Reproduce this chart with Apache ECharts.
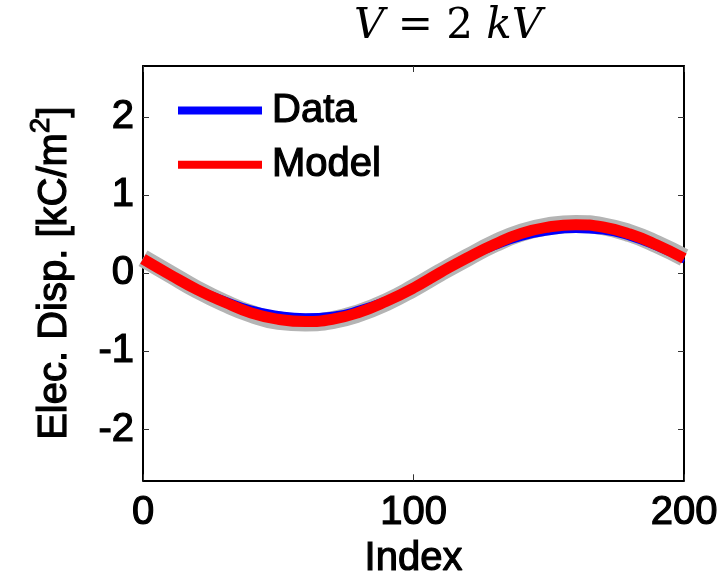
<!DOCTYPE html>
<html>
<head>
<meta charset="utf-8">
<script src="https://cdn.jsdelivr.net/npm/echarts@6/dist/echarts.min.js"></script>
<style>
  html, body { margin: 0; padding: 0; background: #fff; }
  #chart { width: 721px; height: 585px; }
</style>
</head>
<body>
<div id="chart"></div>
<script>
// sample index (x) and values
const sampleIndex = [0, 10, 20, 30, 40, 50, 60, 70, 80, 90, 100, 110, 120, 130, 140, 150, 160, 170, 180, 190, 200];
const rawBand = [0.19, -0.01, -0.21, -0.38, -0.52, -0.61, -0.63, -0.60, -0.51, -0.37, -0.19, 0.01, 0.20, 0.38, 0.52, 0.60, 0.63, 0.60, 0.51, 0.37, 0.20];
const dataVals = [0.15, -0.02, -0.18, -0.32, -0.44, -0.51, -0.54, -0.52, -0.44, -0.32, -0.17, 0.01, 0.17, 0.32, 0.44, 0.51, 0.54, 0.52, 0.44, 0.31, 0.15];
const modelVals = [0.18, -0.02, -0.21, -0.37, -0.51, -0.59, -0.62, -0.59, -0.50, -0.36, -0.19, 0.01, 0.20, 0.37, 0.51, 0.59, 0.62, 0.59, 0.50, 0.36, 0.19];
const xTicks = [0, 100, 200];
const yTicks = [-2, -1, 0, 1, 2];

const pairs = (vals) => sampleIndex.map((x, i) => [x, vals[i]]);

const font = 'Liberation Sans, Arial, sans-serif';
const chart = echarts.init(document.getElementById('chart'));

// slightly heavier text, like the original figure
const txt = { fontFamily: font, fontSize: 40, color: '#000', textBorderColor: '#000', textBorderWidth: 1.2 };
const axisLine = { show: true, onZero: false, lineStyle: { color: '#000', width: 2 } };
const tick = { show: true, inside: true, length: 6, lineStyle: { color: '#333', width: 1 } };

const option = {
  animation: false,
  backgroundColor: '#fff',
  grid: { left: 143, right: 35, top: 66, bottom: 99, containLabel: false },
  graphic: [{
    type: 'text',
    x: 448, y: 6,
    style: {
      text: '{i|V} = 2 {i|kV}',
      align: 'center',
      verticalAlign: 'top',
      font: '42px DejaVu Serif',
      fill: '#000',
      rich: { i: { fontFamily: 'DejaVu Serif', fontStyle: 'italic', fontSize: 42 } }
    }
  }],
  legend: {
    orient: 'vertical',
    left: 173, top: 85,
    itemWidth: 84, itemHeight: 8, itemGap: 13,
    icon: 'rect',
    data: ['Data', 'Model'],
    textStyle: Object.assign({}, txt, { lineHeight: 40, padding: [0, 0, 0, 5] })
  },
  xAxis: [{
    type: 'value', min: 0, max: 200, interval: 100,
    name: 'Index', nameLocation: 'middle', nameGap: 55,
    nameTextStyle: txt,
    axisLine, axisTick: tick,
    axisLabel: Object.assign({}, txt, { margin: 13, customValues: xTicks }),
    splitLine: { show: false }
  }, {
    type: 'value', position: 'top', min: 0, max: 200, interval: 100,
    axisLine, axisTick: tick, axisLabel: { show: false }, splitLine: { show: false }
  }],
  yAxis: [{
    type: 'value', min: -2.65, max: 2.65,
    name: '{t|Elec. Disp. [kC/m}{s|2}{t|]}', nameLocation: 'middle', nameGap: 68,
    nameTextStyle: {
      color: '#000',
      rich: {
        t: { fontFamily: font, fontSize: 40, lineHeight: 40, verticalAlign: 'bottom', textBorderColor: '#000', textBorderWidth: 1.2 },
        s: { fontFamily: font, fontSize: 28, lineHeight: 28, verticalAlign: 'bottom', padding: [0, 0, 20, 0], textBorderColor: '#000', textBorderWidth: 1 }
      }
    },
    axisLine,
    axisTick: Object.assign({}, tick, { customValues: yTicks }),
    axisLabel: Object.assign({}, txt, { margin: 9, customValues: yTicks }),
    splitLine: { show: false }
  }, {
    type: 'value', position: 'right', min: -2.65, max: 2.65,
    axisLine,
    axisTick: Object.assign({}, tick, { customValues: yTicks }),
    axisLabel: { show: false }, splitLine: { show: false }
  }],
  series: [
    {
      name: 'Raw', type: 'line', data: pairs(rawBand), smooth: true, showSymbol: false,
      lineStyle: { color: '#b4b4b4', width: 18 }, itemStyle: { color: '#b4b4b4' }
    },
    {
      name: 'Data', type: 'line', data: pairs(dataVals), smooth: true, showSymbol: false,
      lineStyle: { color: '#0000ff', width: 4 }, itemStyle: { color: '#0000ff' }
    },
    {
      name: 'Model', type: 'line', data: pairs(modelVals), smooth: true, showSymbol: false,
      lineStyle: { color: '#ff0000', width: 11 }, itemStyle: { color: '#ff0000' }
    }
  ]
};

chart.setOption(option);
</script>
</body>
</html>
